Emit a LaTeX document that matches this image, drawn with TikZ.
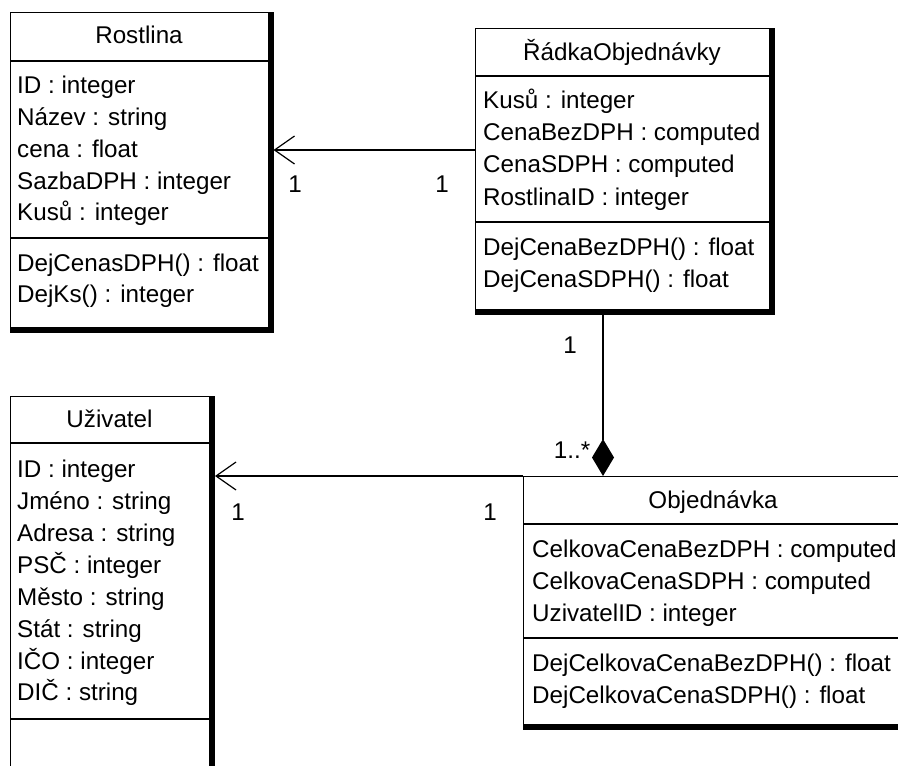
\documentclass[tikz,border=0pt]{standalone}
\usepackage{fontspec}
\setmainfont{Liberation Sans}
\usetikzlibrary{arrows.meta}
\tikzset{
  every node/.style={font=\fontsize{24.2}{29}\selectfont},
  umlbox/.style={draw, line width=1.3pt, fill=white, rectangle, anchor=north west, inner sep=0pt},
  txt/.style={anchor=base west, inner sep=0pt},
  ttl/.style={anchor=base, inner sep=0pt},
  mult/.style={anchor=base, inner sep=0pt},
  sep/.style={line width=1.3pt},
  conn/.style={line width=1.3pt},
  openarr/.style={-{Straight Barb[length=20pt,width=28pt,line width=1.2pt]}},
  comp/.style={-{Diamond[length=37pt,width=22pt]}},
}
\begin{document}
\begin{tikzpicture}[x=1pt,y=-1pt]
\useasboundingbox (0,0) rectangle (898,766);
\clip (0,0) rectangle (898,766);

% ---------- Rostlina ----------
\node[umlbox, minimum width=258pt, minimum height=315pt] (ro) at (10,12) {};
\fill (ro.north east) rectangle ([shift={(5pt,-5pt)}]ro.south east);
\fill (ro.south west) rectangle ([shift={(5pt,-5pt)}]ro.south east);
\draw[sep] (10,61) -- (268,61);
\draw[sep] (10,238) -- (268,238);
\node[ttl] (roT) at (139,43) {Rostlina};
\node[txt] (ro1) at (17,93) {ID : integer};
\node[txt] (ro2) at (17,125) {Název : string};
\node[txt] (ro3) at (17,157) {cena : float};
\node[txt] (ro4) at (17,189) {SazbaDPH : integer};
\node[txt] (ro5) at (17,220) {Kusů : integer};
\node[txt] (ro6) at (17,271.5) {DejCenasDPH() : float};
\node[txt] (ro7) at (17,302) {DejKs() : integer};

% ---------- RadkaObjednavky ----------
\node[umlbox, minimum width=294pt, minimum height=281pt] (ra) at (475,28) {};
\fill (ra.north east) rectangle ([shift={(5pt,-5pt)}]ra.south east);
\fill (ra.south west) rectangle ([shift={(5pt,-5pt)}]ra.south east);
\draw[sep] (475,76) -- (769,76);
\draw[sep] (475,222) -- (769,222);
\node[ttl] (raT) at (622,60) {ŘádkaObjednávky};
\node[txt] (ra1) at (483,108) {Kusů : integer};
\node[txt] (ra2) at (483,140) {CenaBezDPH : computed};
\node[txt] (ra3) at (483,172) {CenaSDPH : computed};
\node[txt] (ra4) at (483,205) {RostlinaID : integer};
\node[txt] (ra5) at (483,255) {DejCenaBezDPH() : float};
\node[txt] (ra6) at (483,287) {DejCenaSDPH() : float};

% ---------- Uzivatel ----------
\node[umlbox, minimum width=199pt, minimum height=420pt] (uz) at (10,396) {};
\fill (uz.north east) rectangle ([shift={(5pt,-5pt)}]uz.south east);
\draw[sep] (10,443) -- (209,443);
\draw[sep] (10,719) -- (209,719);
\node[ttl] (uzT) at (109.5,427) {Uživatel};
\node[txt] (uz1) at (17,477) {ID : integer};
\node[txt] (uz2) at (17,509) {Jméno : string};
\node[txt] (uz3) at (17,541) {Adresa : string};
\node[txt] (uz4) at (17,573) {PSČ : integer};
\node[txt] (uz5) at (17,605) {Město : string};
\node[txt] (uz6) at (17,637) {Stát : string};
\node[txt] (uz7) at (17,669) {IČO : integer};
\node[txt] (uz8) at (17,700) {DIČ : string};

% ---------- Objednavka ----------
\node[umlbox, minimum width=400pt, minimum height=248pt] (ob) at (523,476) {};
\fill (ob.south west) rectangle ([shift={(5pt,-5pt)}]ob.south east);
\draw[sep] (523,524) -- (923,524);
\draw[sep] (523,638) -- (923,638);
\node[ttl] (obT) at (713,508) {Objednávka};
\node[txt] (ob1) at (532,557) {CelkovaCenaBezDPH : computed};
\node[txt] (ob2) at (532,589) {CelkovaCenaSDPH : computed};
\node[txt] (ob3) at (532,621) {UzivatelID : integer};
\node[txt] (ob4) at (532,671) {DejCelkovaCenaBezDPH() : float};
\node[txt] (ob5) at (532,703) {DejCelkovaCenaSDPH() : float};

% ---------- connectors ----------
\coordinate (t1) at (273.5,150);
\coordinate (t2) at (215,476);
\coordinate (t3) at (603,476);
\draw[conn, openarr] (ra.west |- t1) -- (t1);
\draw[conn, openarr] (ob.north west) -- (t2);
\draw[conn, comp] (t3 |- ra.south) -- (t3);

% ---------- multiplicities ----------
\node[mult] (m1) at (295,192) {1};
\node[mult] (m2) at (442,192) {1};
\node[mult] (m3) at (238,520) {1};
\node[mult] (m4) at (490,520) {1};
\node[mult] (m5) at (570,353) {1};
\node[mult] (m6) at (572,458) {1..*};
\end{tikzpicture}
\end{document}
